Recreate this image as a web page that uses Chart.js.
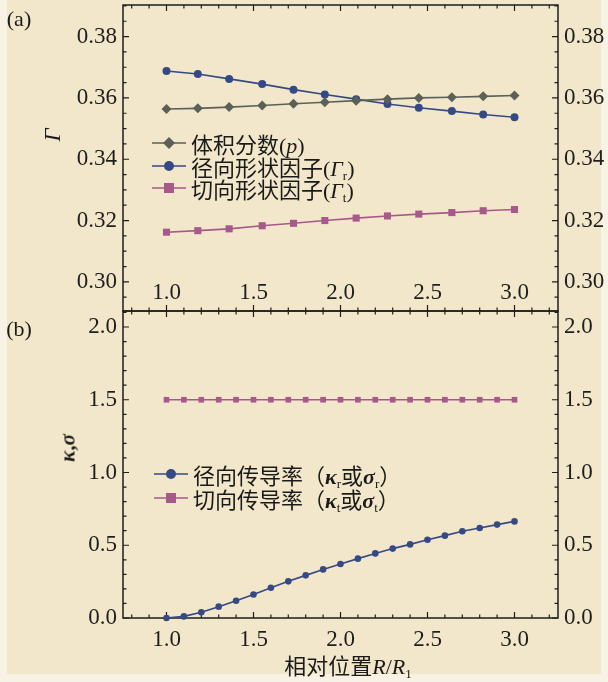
<!DOCTYPE html>
<html>
<head>
<meta charset="utf-8">
<script src="https://cdn.jsdelivr.net/npm/chart.js@4.4.0/dist/chart.umd.min.js"></script>
<style>
    html, body { margin: 0; padding: 0; }
    body {
        width: 608px; height: 682px; position: relative; overflow: hidden;
        background: #f8f2e4; color: #1a1a1a;
        font-family: "Liberation Serif", "DejaVu Serif", serif;
    }
    #paper { position: absolute; left: 7px; top: 0; width: 594px; height: 674px; background: #f2e7ca; }
    canvas { position: absolute; left: 0; }
    #chart-a { top: 0; }
    #chart-b { top: 295px; }
    .txt { position: absolute; white-space: nowrap; transform: translate(-50%, -50%); }
    .rot { transform: translate(-50%, -50%) rotate(-90deg); }
    .legend { position: absolute; font-family: "Liberation Serif", "Noto Sans CJK SC", serif; font-size: 22px; }
    .legend .row { display: flex; align-items: center; white-space: nowrap; }
    .legend svg { margin-right: 5px; }
    sub { font-size: 13px; vertical-align: -4px; line-height: 0; }
</style>
</head>
<body>
<div id="paper"></div>
<canvas id="chart-a" width="608" height="320"></canvas>
<canvas id="chart-b" width="608" height="387"></canvas>

<div class="txt" style="left:19px;top:19px;font-size:22px;">(a)</div>
<div class="txt" style="left:19px;top:329px;font-size:22px;">(b)</div>
<div class="txt rot" style="left:53px;top:135px;font-size:23px;"><i>Γ</i></div>
<div class="txt rot" style="left:68px;top:448px;font-size:21px;font-weight:bold;"><i>κ</i>,<i>σ</i></div>
<div class="txt" style="left:348px;top:664px;font-size:22px;font-family:'Liberation Serif','Noto Sans CJK SC',serif;">相对位置<i>R</i>/<i>R</i><sub>1</sub></div>

<div class="legend" id="legend-a" style="left:152px;top:132px;"></div>
<div class="legend" id="legend-b" style="left:154px;top:462px;"></div>

<script>
// panel (a): shape factors
const xA = [1.0, 1.18, 1.36, 1.55, 1.73, 1.91, 2.09, 2.27, 2.45, 2.64, 2.82, 3.0];
const volumeFraction = [0.3564, 0.3566, 0.3570, 0.3575, 0.3581, 0.3586, 0.3591, 0.3596, 0.3600, 0.3602, 0.3605, 0.3608];
const radialShape = [0.3688, 0.3678, 0.3662, 0.3645, 0.3627, 0.3611, 0.3596, 0.3580, 0.3568, 0.3557, 0.3546, 0.3537];
const tangentShape = [0.3162, 0.3167, 0.3173, 0.3183, 0.3191, 0.3200, 0.3208, 0.3215, 0.3221, 0.3226, 0.3232, 0.3236];

// panel (b): conductivities
const xB = [1.0, 1.1, 1.2, 1.3, 1.4, 1.5, 1.6, 1.7, 1.8, 1.9, 2.0, 2.1, 2.2, 2.3, 2.4, 2.5, 2.6, 2.7, 2.8, 2.9, 3.0];
const radialCond = [0, 0.011, 0.039, 0.078, 0.119, 0.162, 0.208, 0.252, 0.293, 0.334, 0.371, 0.408, 0.444, 0.477, 0.506, 0.538, 0.566, 0.596, 0.619, 0.642, 0.664];
const tangentCond = [1.5, 1.5, 1.5, 1.5, 1.5, 1.5, 1.5, 1.5, 1.5, 1.5, 1.5, 1.5, 1.5, 1.5, 1.5, 1.5, 1.5, 1.5, 1.5, 1.5, 1.5];

// tick labels
const xTicks = [1.0, 1.5, 2.0, 2.5, 3.0];
const yTicksA = [0.30, 0.32, 0.34, 0.36, 0.38];
const yTicksB = [0.0, 0.5, 1.0, 1.5, 2.0];

const GRAY = '#5b6159';
const BLUE = '#354a85';
const PINK = '#a6598a';
const INK = '#1e1e1e';

Chart.defaults.font.family = '"Liberation Serif", "DejaVu Serif", serif';
Chart.defaults.font.size = 23;
Chart.defaults.color = INK;

function toPoints(xs, ys) {
    return xs.map((x, i) => ({ x: x, y: ys[i] }));
}

// frame with inward ticks on all four sides
const framePlugin = {
    id: 'frame',
    beforeDatasetsDraw(chart, args, opts) {
        const { ctx, chartArea: a } = chart;
        const xs = chart.scales.x, ys = chart.scales.y;
        ctx.save();
        ctx.strokeStyle = INK;
        ctx.lineWidth = 1.5;
        ctx.strokeRect(a.left, a.top, a.right - a.left, a.bottom - a.top);
        ctx.lineWidth = 1.2;
        ctx.beginPath();
        const eachTick = (min, max, minor, major, fn) => {
            for (let k = Math.ceil(min / minor - 1e-6); k * minor <= max + 1e-9; k++) {
                const v = k * minor;
                const r = v / major;
                fn(v, Math.abs(r - Math.round(r)) < 1e-6);
            }
        };
        eachTick(xs.min, xs.max, opts.xMinor, opts.xMajor, (v, big) => {
            const px = xs.getPixelForValue(v);
            const len = big ? 6 : 3.5;
            ctx.moveTo(px, a.top); ctx.lineTo(px, a.top + len);
            ctx.moveTo(px, a.bottom); ctx.lineTo(px, a.bottom - len);
        });
        eachTick(ys.min, ys.max, opts.yMinor, opts.yMajor, (v, big) => {
            const py = ys.getPixelForValue(v);
            const len = big ? 6 : 3.5;
            ctx.moveTo(a.left, py); ctx.lineTo(a.left + len, py);
            ctx.moveTo(a.right, py); ctx.lineTo(a.right - len, py);
        });
        ctx.stroke();
        ctx.restore();
    }
};

function noPad(s) {
    s.paddingTop = 0; s.paddingBottom = 0; s.paddingLeft = 0; s.paddingRight = 0;
}

function xAxis(padding, height, inside) {
    return {
        type: 'linear', min: 0.75, max: 3.25,
        grid: { display: false, drawTicks: false }, border: { display: false },
        ticks: { padding: padding, mirror: inside, maxRotation: 0, callback: v => v.toFixed(1) },
        afterBuildTicks: s => { s.ticks = xTicks.map(v => ({ value: v })); },
        afterFit: s => { s.height = height; noPad(s); }
    };
}

function yAxis(pos, min, max, ticks, digits, width, padding) {
    return {
        type: 'linear', position: pos, min: min, max: max,
        grid: { display: false, drawTicks: false }, border: { display: false },
        ticks: { padding: padding, callback: v => v.toFixed(digits) },
        afterBuildTicks: s => { s.ticks = ticks.map(v => ({ value: v })); },
        afterFit: s => { s.width = width; noPad(s); }
    };
}

function series(label, xs, ys, color, style, radius) {
    return {
        label: label,
        data: toPoints(xs, ys),
        showLine: true,
        borderColor: color,
        backgroundColor: color,
        borderWidth: 1.6,
        pointStyle: style,
        pointRadius: radius,
        pointBorderWidth: 0,
        pointBackgroundColor: color,
        clip: false
    };
}

// Panel (a)
new Chart(document.getElementById('chart-a'), {
    type: 'scatter',
    data: {
        datasets: [
            series('体积分数(p)', xA, volumeFraction, GRAY, 'rectRot', 5),
            series('径向形状因子(Γr)', xA, radialShape, BLUE, 'circle', 4),
            series('切向形状因子(Γt)', xA, tangentShape, PINK, 'rect', 5)
        ]
    },
    options: {
        responsive: false,
        animation: false,
        devicePixelRatio: 1,
        layout: { padding: { top: 5, bottom: 9, left: 0, right: 0 } },
        plugins: {
            legend: { display: false },
            tooltip: { enabled: false },
            frame: { xMinor: 0.1, xMajor: 0.5, yMinor: 0.005, yMajor: 0.02 }
        },
        scales: {
            x: xAxis(4, 0, true),
            y: yAxis('left', 0.2905, 0.3903, yTicksA, 2, 123, 6),
            y2: yAxis('right', 0.2905, 0.3903, yTicksA, 2, 50, 6)
        }
    },
    plugins: [framePlugin]
});

// Panel (b)
new Chart(document.getElementById('chart-b'), {
    type: 'scatter',
    data: {
        datasets: [
            series('径向传导率', xB, radialCond, BLUE, 'circle', 3.3),
            series('切向传导率', xB, tangentCond, PINK, 'rect', 4)
        ]
    },
    options: {
        responsive: false,
        animation: false,
        devicePixelRatio: 1,
        layout: { padding: { top: 16, bottom: 0, left: 0, right: 0 } },
        plugins: {
            legend: { display: false },
            tooltip: { enabled: false },
            frame: { xMinor: 0.1, xMajor: 0.5, yMinor: 0.1, yMajor: 0.5 }
        },
        scales: {
            x: xAxis(8, 64, false),
            y: yAxis('left', 0, 2.11, yTicksB, 1, 123, 6),
            y2: yAxis('right', 0, 2.11, yTicksB, 1, 50, 6)
        }
    },
    plugins: [framePlugin]
});

// HTML legends (line + marker key, rich text labels)
function keySvg(color, shape, size) {
    let mark;
    if (shape === 'diamond') {
        mark = `<polygon points="17,${7 - size} ${17 + size},7 17,${7 + size} ${17 - size},7" fill="${color}"/>`;
    } else if (shape === 'circle') {
        mark = `<circle cx="17" cy="7" r="${size}" fill="${color}"/>`;
    } else {
        mark = `<rect x="${17 - size}" y="${7 - size}" width="${2 * size}" height="${2 * size}" fill="${color}"/>`;
    }
    return `<svg width="34" height="14"><line x1="0" y1="7" x2="34" y2="7" stroke="${color}" stroke-width="1.5"/>${mark}</svg>`;
}

const legendA = [
    { color: GRAY, shape: 'diamond', size: 6, html: '体积分数(<i>p</i>)' },
    { color: BLUE, shape: 'circle', size: 5, html: '径向形状因子(<i>Γ</i><sub>r</sub>)' },
    { color: PINK, shape: 'rect', size: 5, html: '切向形状因子(<i>Γ</i><sub>t</sub>)' }
];
const legendB = [
    { color: BLUE, shape: 'circle', size: 5, html: '径向传导率（<b><i>κ</i></b><sub>r</sub>或<b><i>σ</i></b><sub>r</sub>）' },
    { color: PINK, shape: 'rect', size: 5, html: '切向传导率（<b><i>κ</i></b><sub>t</sub>或<b><i>σ</i></b><sub>t</sub>）' }
];

function buildLegend(id, items, rowHeight) {
    const el = document.getElementById(id);
    items.forEach(item => {
        const row = document.createElement('div');
        row.className = 'row';
        row.style.height = rowHeight + 'px';
        row.innerHTML = keySvg(item.color, item.shape, item.size) + '<span>' + item.html + '</span>';
        el.appendChild(row);
    });
}
buildLegend('legend-a', legendA, 22.5);
buildLegend('legend-b', legendB, 24);
</script>
</body>
</html>
